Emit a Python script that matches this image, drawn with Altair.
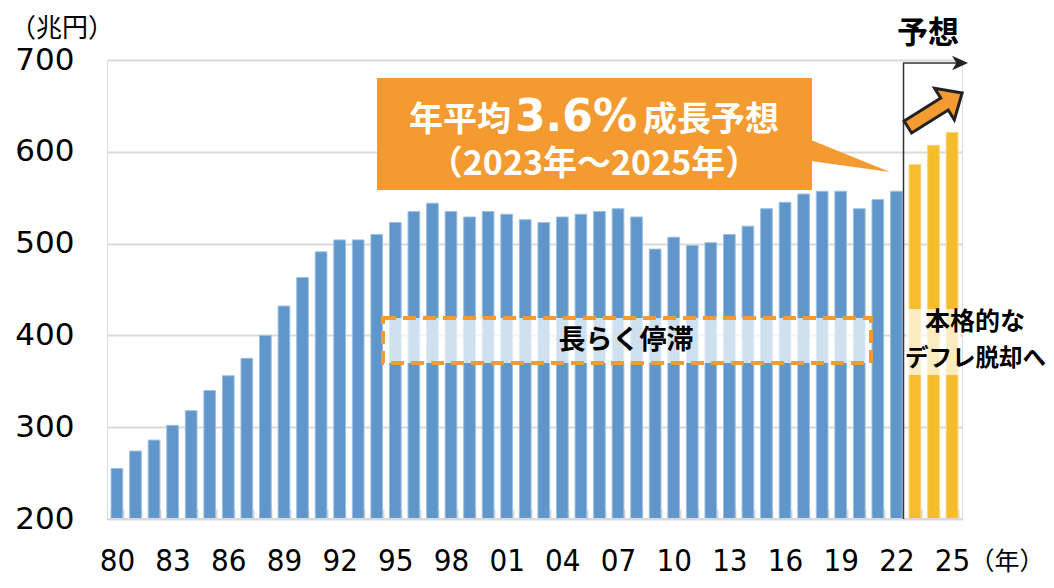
import json
import altair as alt
import pandas as pd

# ---- data ----
years = ["1980", "1981", "1982", "1983", "1984", "1985", "1986", "1987", "1988", "1989",
         "1990", "1991", "1992", "1993", "1994", "1995", "1996", "1997", "1998", "1999",
         "2000", "2001", "2002", "2003", "2004", "2005", "2006", "2007", "2008", "2009",
         "2010", "2011", "2012", "2013", "2014", "2015", "2016", "2017", "2018", "2019",
         "2020", "2021", "2022", "2023", "2024", "2025"]
gdp = [255, 274, 286, 302, 318, 340, 356, 375, 400, 432,
       463, 491, 504, 504, 510, 523, 535, 544, 535, 529,
       535, 532, 526, 523, 529, 532, 535, 538, 529, 494,
       507, 498, 501, 510, 519, 538, 545, 554, 557, 557,
       538, 548, 557, 586, 607, 621]
kind = ["実績"] * 43 + ["予想"] * 3
tick_years = ["1980", "1983", "1986", "1989", "1992", "1995", "1998", "2001",
              "2004", "2007", "2010", "2013", "2016", "2019", "2022", "2025"]
y_ticks = [200, 300, 400, 500, 600, 700]

BLUE = "#6096C9"
YELLOW = "#F5BD2B"
ORANGE = "#F39A31"
GRID = "#D9D9D9"
JP = "Noto Sans CJK JP"

# layout (screen px of plot-area origin)
OX, OY = 107, 60
W, H = 855, 459


def px(v):
    return v - OX


def py(v):
    return v - OY


df = pd.DataFrame({"year": years, "gdp": gdp, "kind": kind})
one = pd.DataFrame({"k": [0]})

label_expr = (f"indexof({json.dumps(tick_years)}, datum.value) >= 0 ? "
              "substring(datum.value, 2, 4) : ''")

x_enc = alt.X(
    "year:O",
    sort=years,
    scale=alt.Scale(paddingInner=0.37, paddingOuter=0.22),
    axis=alt.Axis(
        title=None, labelAngle=0, labelExpr=label_expr, domain=False,
        ticks=True, tickColor=GRID, tickWidth=2, tickSize=10, tickBand="extent",
        offset=-10, labelPadding=27, labelFontSize=31, labelColor="#000",
        labelFont="Liberation Sans Narrow, DejaVu Sans Condensed, Arial Narrow, sans-serif",
        labelBaseline="top", grid=False,
    ),
)
y_enc = alt.Y(
    "gdp:Q",
    scale=alt.Scale(domain=[200, 700], zero=False, nice=False),
    axis=alt.Axis(
        title=None, values=y_ticks, domain=False, ticks=False, grid=True,
        gridColor=GRID, gridWidth=2, labelFontSize=31, labelFont="DejaVu Sans",
        labelColor="#000", labelPadding=33,
    ),
)

bars = alt.Chart(df).mark_bar(strokeWidth=1).encode(
    x=x_enc,
    y=y_enc,
    y2=alt.datum(200),
    color=alt.Color("kind:N", scale=alt.Scale(domain=["実績", "予想"], range=[BLUE, YELLOW]),
                    legend=None),
    stroke=alt.Stroke("kind:N", scale=alt.Scale(domain=["実績", "予想"],
                                                range=["#9CC0E3", "#F8D27A"]),
                      legend=None),
)

baseline = alt.Chart(one).mark_rule(color=GRID, strokeWidth=2).encode(
    x=alt.value(0), x2=alt.value(W), y=alt.value(H))

# stagnation band
stag_rect = alt.Chart(one).mark_rect(
    fill="white", fillOpacity=0.7, stroke=ORANGE, strokeWidth=4, strokeDash=[13, 7]
).encode(x=alt.value(px(383)), x2=alt.value(px(871)), y=alt.value(py(318)),
         y2=alt.value(py(363)))
stag_text = alt.Chart(one).mark_text(
    text="長らく停滞", font=JP, fontSize=27, fontWeight="bold", color="#000",
    align="center", baseline="middle"
).encode(x=alt.value(px(626)), y=alt.value(py(341)))

# forecast highlight
fc_rect = alt.Chart(one).mark_rect(fill="white", fillOpacity=0.7).encode(
    x=alt.value(px(906)), x2=alt.value(px(960)), y=alt.value(py(309)), y2=alt.value(py(375)))
fc_text1 = alt.Chart(one).mark_text(
    text="本格的な", font=JP, fontSize=25, fontWeight="bold", color="#000",
    align="center", baseline="middle").encode(x=alt.value(px(975)), y=alt.value(py(322)))
fc_text2 = alt.Chart(one).mark_text(
    text="デフレ脱却へ", font=JP, fontSize=23.5, fontWeight="bold", color="#000",
    align="left", baseline="middle").encode(x=alt.value(px(905)), y=alt.value(py(359)))

# separator line and arrow
sep = alt.Chart(one).mark_rule(color="#333", strokeWidth=1.5).encode(
    x=alt.value(px(903.5)), y=alt.value(py(63)), y2=alt.value(py(519)))
hline = alt.Chart(one).mark_rule(color="#333", strokeWidth=1.5).encode(
    x=alt.value(px(903)), x2=alt.value(px(958)), y=alt.value(py(63)))
head = alt.Chart(one).mark_point(
    shape="M-1,-0.9L1,0L-1,0.9L-0.45,0Z", size=256, filled=True, fill="#222",
    strokeWidth=0, opacity=1
).encode(x=alt.value(px(960)), y=alt.value(py(63)))
yosou = alt.Chart(one).mark_text(
    text="予想", font=JP, fontSize=31, fontWeight="bold", color="#000",
    align="center", baseline="middle").encode(x=alt.value(px(928)), y=alt.value(py(34)))
block_arrow = alt.Chart(one).mark_point(
    shape="M-1,-0.22L0.35,-0.22L0.35,-0.58L1,0L0.35,0.58L0.35,0.22L-1,0.22Z",
    size=4096, filled=True, fill=ORANGE, stroke="#222", strokeWidth=3, opacity=1,
    angle=328,
).encode(x=alt.value(px(935)), y=alt.value(py(110)))

# callout
call_rect = alt.Chart(one).mark_rect(color=ORANGE).encode(
    x=alt.value(px(377)), x2=alt.value(px(812)), y=alt.value(py(78)), y2=alt.value(py(190)))
tail_path = (f"M{px(811)},{py(140)}L{px(890)},{py(172)}L{px(811)},{py(161)}Z")
call_tail = alt.Chart(one).mark_point(
    shape=tail_path, size=4, filled=True, fill=ORANGE, strokeWidth=0, opacity=1
).encode(x=alt.value(0), y=alt.value(0))
c1 = alt.Chart(one).mark_text(
    text="年平均", font=JP, fontSize=34, fontWeight="bold", color="white",
    align="right", baseline="alphabetic").encode(x=alt.value(px(511)), y=alt.value(py(131)))
c2 = alt.Chart(one).mark_text(
    text="3.6%", font="DejaVu Sans", fontSize=44, fontWeight="bold", color="white",
    align="center", baseline="alphabetic").encode(x=alt.value(px(576)), y=alt.value(py(131)))
c3 = alt.Chart(one).mark_text(
    text="成長予想", font=JP, fontSize=34, fontWeight="bold", color="white",
    align="left", baseline="alphabetic").encode(x=alt.value(px(643)), y=alt.value(py(131)))
c4 = alt.Chart(one).mark_text(
    text="（2023年～2025年）", font=JP, fontSize=34, fontWeight="bold", color="white",
    align="center", baseline="middle").encode(x=alt.value(px(594)), y=alt.value(py(165)))

# unit labels
unit_y = alt.Chart(one).mark_text(
    text="（兆円）", font=JP, fontSize=26, color="#000", align="center",
    baseline="middle").encode(x=alt.value(px(62)), y=alt.value(py(29)))
unit_x = alt.Chart(one).mark_text(
    text="（年）", font=JP, fontSize=25, color="#000", align="center",
    baseline="middle").encode(x=alt.value(px(1007)), y=alt.value(py(562)))

chart = alt.layer(
    bars, baseline, stag_rect, stag_text, fc_rect, fc_text1, fc_text2,
    sep, hline, head, yosou, block_arrow, call_tail, call_rect, c1, c2, c3, c4,
    unit_y, unit_x,
).properties(
    width=W, height=H,
    autosize=alt.AutoSizeParams(type="none"),
    padding={"left": OX - 8, "top": OY - 8, "right": 1046 - (OX + W), "bottom": 580 - (OY + H)},
).configure_view(stroke=None).configure(background="white")

chart.save("out.html", embed_options={"renderer": "svg", "actions": False})
